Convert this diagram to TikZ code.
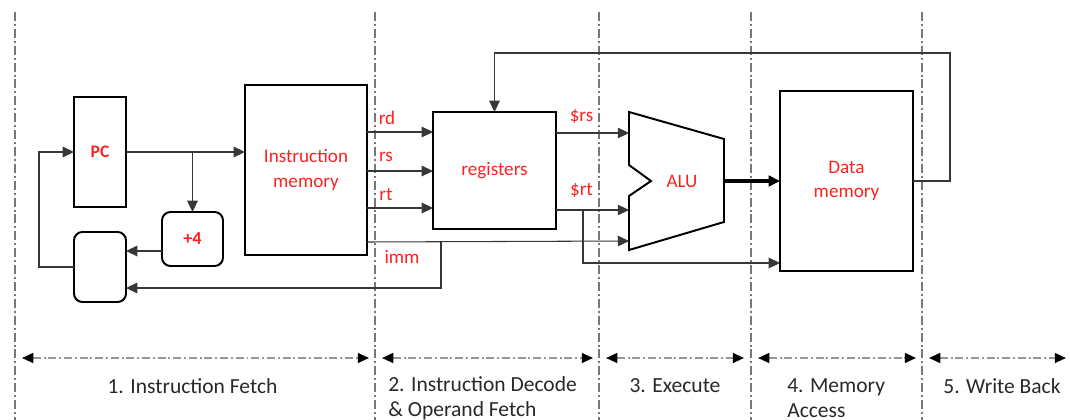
\documentclass[tikz,border=0pt]{standalone}
\usepackage{fontspec}
\setmainfont{Carlito}
\usetikzlibrary{arrows.meta}
\usetikzlibrary{calc}
\usetikzlibrary{positioning}
\definecolor{labelcolour}{RGB}{255,32,32}
\definecolor{wirecolour}{RGB}{55,55,55}
\definecolor{stagecolour}{RGB}{120,120,120}
\definecolor{spancolour}{RGB}{150,150,150}
\definecolor{textcolour}{RGB}{40,40,40}
\tikzset{>={Triangle[length=8pt,width=7.5pt]}}
\newcommand\linewd{.75pt}
\newcommand\boxwidth{1.4pt}
\tikzstyle{wire}         = [line width=\linewd, color=wirecolour]
\tikzstyle{unit}         = 
 [draw, line width=\boxwidth, outer sep=0pt, inner sep=0pt, text=labelcolour,
  font=\fontsize{13.6}{17.5}\selectfont]
\tikzstyle{rounded unit} = [unit, rounded corners=6pt]
\tikzstyle{signal}       = [text=labelcolour, inner sep=0pt, font=\fontsize{13.6}{17.5}\selectfont]
\tikzstyle{boundary}     = 
 [line width=1pt, color=stagecolour, dash pattern=on 6.4pt off 2.1pt on 1.4pt off 2.1pt]
\tikzstyle{span}         = 
 [line width=1.4pt, color=spancolour, dash pattern=on 5.7pt off 2pt on 1.4pt off 2pt,
  arrows={Triangle[length=8pt,width=7pt,black]-Triangle[length=8pt,width=7pt,black]}]
\tikzstyle{stage}        = [text=textcolour, inner sep=0pt, font=\fontsize{15.3}{17.8}\selectfont]

\begin{document}
\begin{tikzpicture}[x=0.025cm, y=-0.025cm]
    \useasboundingbox (0,0) rectangle (1070,420);
    % stage boundaries
    \foreach \x in {15,375,599,751,922}
        \draw[boundary] (\x,12) -- (\x,420);
    % units
    \draw (100,152) node[unit, minimum width=1.3cm, minimum height=2.75cm,
        font=\fontsize{12.5}{15}\selectfont\bfseries] (pc) {PC};
    \draw (192.5,239) node[rounded unit, minimum width=1.525cm, minimum height=1.35cm,
        font=\fontsize{13}{15}\selectfont\bfseries] (plusfour) {+4};
    \draw (100,267) node[rounded unit, minimum width=1.3cm, minimum height=1.75cm] (mux) {};
    \draw (306,170) node[unit, minimum width=3.05cm, minimum height=4.25cm, align=center] (imem) {Instruction\\memory};
    \draw (494.5,170.5) node[unit, minimum width=3.075cm, minimum height=2.925cm] (regs) {registers};
    \draw (846.5,181) node[unit, minimum width=3.325cm, minimum height=4.5cm, align=center] (dmem) {Data\\memory};
    \draw[line width=\boxwidth] (629,112) -- (724,139) -- (724,222) -- (629,250) -- (629,196)
        -- (651,181) -- (629,165) -- cycle;
    \draw (682,181) node[signal] (alu) {ALU};
    \coordinate (alua) at (629,133);
    \coordinate (alub) at (629,210);
    \coordinate (aluc) at (629,241);
    \coordinate (aluout) at (724,181);
    % fetch
    \draw[wire, ->] (pc.east) -- (pc.east -| imem.west);
    \draw[wire, ->] (pc.east -| plusfour.north) -- (plusfour.north);
    \draw[wire, ->] ([yshift=-0.3cm]plusfour.west) coordinate (incr) -- (incr -| mux.east);
    \draw[wire, ->] (mux.west) -| (39,152) -- (pc.west);
    % decode
    \draw[wire, ->] (imem.east |- 0,132) -- (regs.west |- 0,132);
    \draw[wire, ->] (imem.east |- 0,171) -- (regs.west |- 0,171);
    \draw[wire, ->] (imem.east |- 0,208) -- (regs.west |- 0,208);
    \draw[wire, ->] (imem.east |- 0,242) -- (aluc);
    \draw[wire, ->] (441,242) |- (mux.east |- 0,288);
    % execute, memory, write back
    \draw[wire, ->] (regs.east |- alua) -- (alua);
    \draw[wire, ->] (regs.east |- alub) -- (alub);
    \draw[wire, ->] (583,210) |- (dmem.west |- 0,263);
    \draw[line width=2.2pt, ->] (aluout) -- (aluout -| dmem.west);
    \draw[wire, ->] (dmem.east) -- (950,181) |- (regs.north |- 0,53) -- (regs.north);
    % signal names
    \draw (387,118) node[signal] (rdname) {rd};
    \draw (386,157) node[signal] (rsname) {rs};
    \draw (386,195) node[signal] (rtname) {rt};
    \draw (402,257) node[signal] (immname) {imm};
    \draw (581.5,117) node[signal] (rsval) {\$rs};
    \draw (581.5,191) node[signal] (rtval) {\$rt};
    % stages
    \draw[span] (22,358) -- (369,358);
    \draw[span] (382,358) -- (593,358);
    \draw[span] (606,358) -- (744,358);
    \draw[span] (758,358) -- (916,358);
    \draw[span] (929,358) -- (1066,358);
    \draw (192.5,386) node[stage] (fetch) {1. Instruction Fetch};
    \draw (388,398.5) node[stage, anchor=west, align=left] (decode) {2. Instruction Decode\\\& Operand Fetch};
    \draw (675,386) node[stage] (execute) {3. Execute};
    \draw (787,398.5) node[stage, anchor=west, align=left] (memory) {4. Memory\\Access};
    \draw (1002,386) node[stage] (writeback) {5. Write Back};
\end{tikzpicture}
\end{document}
